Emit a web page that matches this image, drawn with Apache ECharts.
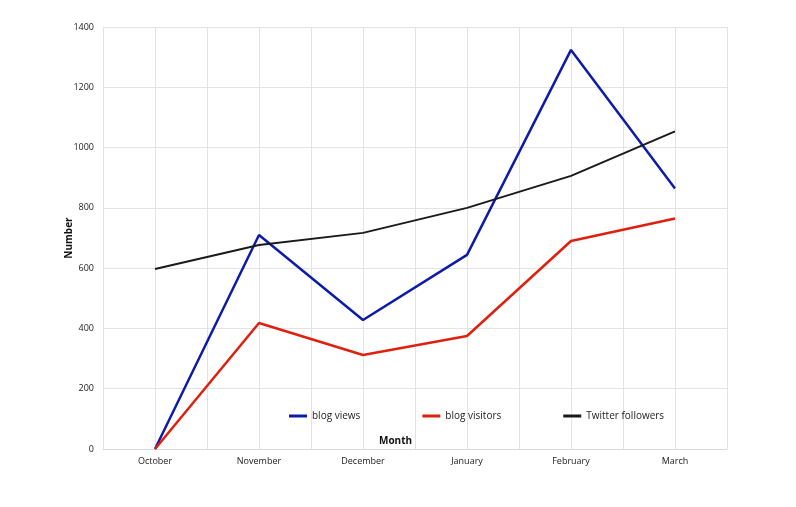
<!DOCTYPE html>
<html>
<head>
<meta charset="utf-8">
<script src="https://cdn.jsdelivr.net/npm/echarts@6/dist/echarts.min.js"></script>
<style>
  html, body { margin: 0; padding: 0; background: #fff; }
  #chart { width: 796px; height: 507px; }
</style>
</head>
<body>
<div id="chart"></div>
<script>
// chart data
var months = ['October', 'November', 'December', 'January', 'February', 'March'];
var blogViews = [0, 710, 428, 644, 1324, 864];
var blogVisitors = [0, 418, 312, 375, 690, 765];
var twitterFollowers = [597, 677, 717, 800, 906, 1054];

var FONT = '"Open Sans", "Liberation Sans", sans-serif';

var myChart = echarts.init(document.getElementById('chart'));
var option = {
    animation: false,
    textStyle: { fontFamily: FONT },
    title: {
        text: 'Month',
        left: 374,
        top: 431,
        textStyle: { fontSize: 10, fontWeight: 'bold', color: '#111', fontFamily: FONT }
    },
    grid: { left: 103, right: 69, top: 27, bottom: 58 },
    legend: {
        left: 284,
        top: 406,
        itemWidth: 18,
        itemHeight: 3,
        itemGap: 62,
        icon: 'rect',
        textStyle: { fontSize: 10, color: '#222', fontFamily: FONT },
        data: ['blog views', 'blog visitors', 'Twitter followers']
    },
    xAxis: [
        {
            type: 'category',
            data: months,
            boundaryGap: true,
            axisLine: { lineStyle: { color: '#d9d9d9', width: 1 } },
            axisTick: { show: false },
            axisLabel: { fontSize: 9, color: '#222', margin: 8 },
            splitLine: { show: false }
        },
        {
            // helper axis: vertical gridlines at centres and boundaries
            type: 'value',
            min: 0,
            max: 12,
            interval: 1,
            position: 'bottom',
            axisLine: { show: false },
            axisTick: { show: false },
            axisLabel: { show: false },
            splitLine: { show: true, lineStyle: { color: '#e3e3e3', width: 1 } }
        }
    ],
    yAxis: {
        type: 'value',
        min: 0,
        max: 1400,
        interval: 200,
        name: 'Number',
        nameLocation: 'middle',
        nameGap: 29,
        nameMoveOverlap: false,
        nameTextStyle: { fontSize: 10, fontWeight: 'bold', color: '#111', fontFamily: FONT },
        axisLine: { show: false },
        axisTick: { show: false },
        axisLabel: {
            fontSize: 9, color: '#222', margin: 9,
            formatter: function (v) { return String(v); }
        },
        splitLine: { lineStyle: { color: '#e3e3e3', width: 1 } }
    },
    series: [
        {
            name: 'blog views',
            type: 'line',
            data: blogViews,
            showSymbol: false,
            symbol: 'none',
            itemStyle: { color: '#0d1ca8' },
            lineStyle: { color: '#0d1ca8', width: 2.5 }
        },
        {
            name: 'blog visitors',
            type: 'line',
            data: blogVisitors,
            showSymbol: false,
            symbol: 'none',
            itemStyle: { color: '#e0200e' },
            lineStyle: { color: '#e0200e', width: 2.5 }
        },
        {
            name: 'Twitter followers',
            type: 'line',
            data: twitterFollowers,
            showSymbol: false,
            symbol: 'none',
            itemStyle: { color: '#1a1a1a' },
            lineStyle: { color: '#1a1a1a', width: 2 }
        }
    ]
};

myChart.setOption(option);
</script>
</body>
</html>
